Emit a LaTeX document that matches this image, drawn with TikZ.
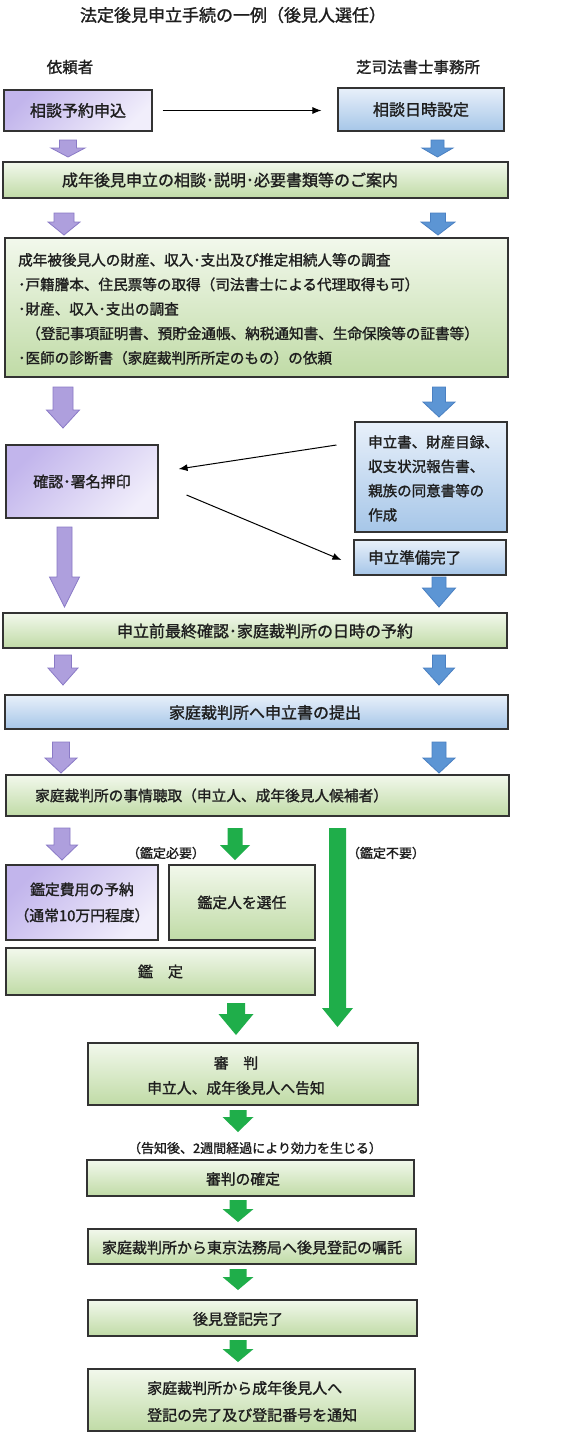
\documentclass[tikz,border=0pt]{standalone}
\usepackage{fontspec}
\setmainfont{Noto Sans CJK JP}[FakeBold=1.4]
\usetikzlibrary{arrows.meta,calc}
\definecolor{pd}{HTML}{C2B5EC}
\definecolor{pl}{HTML}{F1EEFB}
\definecolor{bt}{HTML}{E8F0FA}
\definecolor{bb}{HTML}{A6C6E8}
\definecolor{gt}{HTML}{F2F8EC}
\definecolor{gb}{HTML}{C0DBA6}
\definecolor{pa}{HTML}{AE9FDD}
\definecolor{pas}{HTML}{8A7AC6}
\definecolor{ba}{HTML}{5C95D4}
\definecolor{bas}{HTML}{4A80C2}
\definecolor{ga}{HTML}{1FAE4A}
\definecolor{bx}{HTML}{333333}
\definecolor{tx}{HTML}{1E1E1E}
\newcommand{\fsz}[1]{\fontsize{#1}{#1}\selectfont}
\newcommand{\blkarr}[7]{%
  \path[#1] (#2-#6,#3) -- (#2+#6,#3) -- (#2+#6,#4) -- (#2+#7,#4) -- (#2,#5)
    -- (#2-#7,#4) -- (#2-#6,#4) -- cycle;}
\tikzset{
  box/.style={draw=bx, line width=1.1pt, inner sep=0pt, text=tx},
  pbox/.style={box, top color=pd, bottom color=pl, shading angle=45},
  bbox/.style={box, top color=bt, bottom color=bb},
  gbox/.style={box, top color=gt, bottom color=gb},
  lbl/.style={text=tx, inner sep=0pt},
  parr/.style={fill=pa, draw=pas, line width=0.8pt},
  barr/.style={fill=ba, draw=bas, line width=0.8pt},
  garr/.style={fill=ga},
  link/.style={draw=black, line width=1pt, -{Latex[length=9pt,width=7pt]}},
}
\begin{document}
\begin{tikzpicture}[x=1pt,y=-1pt]
\useasboundingbox (0,0) rectangle (560,1451);
\fill[white] (0,0) rectangle (560,1451);
% headings
\node[lbl, font=\fsz{17}] (title) at (233,15) {法定後見申立手続の一例（後見人選任）};
\node[lbl, font=\fsz{15.5}] (client) at (70,67) {依頼者};
\node[lbl, font=\fsz{15.5}] (office) at (418,67) {芝司法書士事務所};
% row 1
\node[pbox, minimum width=148pt, minimum height=41pt, font=\fsz{16}] (req) at (78,110.5) {相談予約申込};
\node[bbox, minimum width=166pt, minimum height=43pt, font=\fsz{16}] (set) at (421,109.5) {相談日時設定};
\draw[link, shorten <=10pt, shorten >=16pt] (req.east) -- (req.east -| set.west);
% guide
\node[gbox, minimum width=505pt, minimum height=36pt] (guide) at (255.5,180) {};
\node[lbl, font=\fsz{16}] (guidet) at (230,180) {成年後見申立の相談･説明･必要書類等のご案内};
% survey
\node[gbox, minimum width=503pt, minimum height=139pt] (survey) at (256.5,307.5) {};
\node[lbl, anchor=west, align=left, font=\fontsize{14.6}{24.5}\selectfont] (surveyt) at (18,309)
 {成年被後見人の財産、収入･支出及び推定相続人等の調査\\
 ･戸籍謄本、住民票等の取得（司法書士による代理取得も可）\\
 ･財産、収入･支出の調査\\
 \hspace*{0.55em}（登記事項証明書、預貯金通帳、納税通知書、生命保険等の証書等）\\
 ･医師の診断書（家庭裁判所所定のもの）の依頼};
% sign / make / ready
\node[pbox, minimum width=152pt, minimum height=73pt, font=\fsz{15}] (sign) at (82,481.5) {確認･署名押印};
\node[bbox, minimum width=152pt, minimum height=110pt] (make) at (431,477) {};
\node[lbl, anchor=west, align=left, font=\fontsize{14.5}{24.3}\selectfont] (maket) at (368,478.5)
 {申立書、財産目録、\\収支状況報告書、\\親族の同意書等の\\作成};
\node[bbox, minimum width=152pt, minimum height=35pt] (ready) at (430,557.5) {};
\node[lbl, anchor=west, font=\fsz{15.5}] (readyt) at (368,557.5) {申立準備完了};
\draw[link] ($(make.west)+(-18,-32)$) -- ($(sign.east)+(20,-12.5)$);
\draw[link] ($(sign.east)+(28,13.5)$) -- ($(ready.west)+(-12,2.5)$);
% final check / submit / hearing
\node[gbox, minimum width=504pt, minimum height=35pt] (final) at (255,630.5) {};
\node[lbl, font=\fsz{16}] (finalt) at (265,631) {申立前最終確認･家庭裁判所の日時の予約};
\node[bbox, minimum width=503pt, minimum height=34pt] (submit) at (256.5,712) {};
\node[lbl, font=\fsz{16}] (submitt) at (265,712.5) {家庭裁判所へ申立書の提出};
\node[gbox, minimum width=503pt, minimum height=41pt] (hear) at (257.5,795.5) {};
\node[lbl, anchor=west, font=\fsz{14.7}] (heart) at (35,795.5) {家庭裁判所の事情聴取（申立人、成年後見人候補者）};
% appraisal
\node[lbl, font=\fsz{13}] (need) at (166,853) {（鑑定必要）};
\node[lbl, font=\fsz{13}] (noneed) at (386,853) {（鑑定不要）};
\node[pbox, minimum width=152pt, minimum height=75pt, align=center, font=\fontsize{14.8}{26}\selectfont] (fee) at (82,902.5) {鑑定費用の予納\\（通常10万円程度）};
\node[gbox, minimum width=146pt, minimum height=75pt, font=\fsz{14.8}] (appoint) at (242,902.5) {鑑定人を選任};
\node[gbox, minimum width=309pt, minimum height=47pt, font=\fsz{15}] (kantei) at (160.5,971.5) {鑑　定};
% judgement
\node[gbox, minimum width=330pt, minimum height=62pt] (judge) at (253,1074) {};
\node[lbl, align=center, font=\fontsize{14.8}{25}\selectfont] (judget) at (236,1075.5) {審　判\\申立人、成年後見人へ告知};
\node[lbl, font=\fsz{13}] (effect) at (255,1148) {（告知後、2週間経過により効力を生じる）};
\node[gbox, minimum width=327pt, minimum height=36pt] (confirm) at (250.5,1178) {};
\node[lbl, font=\fsz{14.8}] (confirmt) at (243,1179) {審判の確定};
\node[gbox, minimum width=328pt, minimum height=35pt] (entrust) at (252,1246.5) {};
\node[lbl, font=\fsz{15}] (entrustt) at (252,1247.5) {家庭裁判所から東京法務局へ後見登記の嘱託};
\node[gbox, minimum width=329pt, minimum height=36pt] (done) at (252.5,1318) {};
\node[lbl, font=\fsz{15}] (donet) at (238,1319) {後見登記完了};
\node[gbox, minimum width=327pt, minimum height=62pt] (notify) at (251.5,1400) {};
\node[lbl, anchor=west, align=left, font=\fontsize{15}{27}\selectfont] (notifyt) at (147,1401.5) {家庭裁判所から成年後見人へ\\登記の完了及び登記番号を通知};
% block arrows: purple
\blkarr{parr}{68}{140}{148}{157}{8.5}{17}
\blkarr{parr}{64}{213}{222}{235}{10}{16}
\blkarr{parr}{63}{387}{410}{428}{10}{16.5}
\blkarr{parr}{64.5}{527}{577}{607}{7.5}{15}
\blkarr{parr}{63}{655}{668}{685}{8.5}{15}
\blkarr{parr}{61}{742}{758}{773}{8.5}{16}
\blkarr{parr}{62}{828}{845}{860}{8}{15.5}
% blue
\blkarr{barr}{437.5}{140}{148}{157}{6.5}{15.5}
\blkarr{barr}{438}{213}{222}{235}{7.5}{17}
\blkarr{barr}{439}{387}{402}{417}{6.5}{16}
\blkarr{barr}{439}{577}{588}{607}{7}{16.5}
\blkarr{barr}{439}{655}{668}{685}{6.5}{15.5}
\blkarr{barr}{439}{742}{758}{773}{7}{16}
% green
\blkarr{garr}{235}{828}{845}{860}{7.5}{15}
\blkarr{garr}{337.5}{828}{1008}{1027}{8.5}{15.5}
\blkarr{garr}{236}{1003}{1014}{1035}{9}{17.5}
\blkarr{garr}{238}{1110}{1117}{1132}{8.5}{15.5}
\blkarr{garr}{238}{1200}{1209}{1222}{8.5}{15.5}
\blkarr{garr}{238}{1269}{1277}{1290}{8.5}{15.5}
\blkarr{garr}{238}{1340}{1349}{1362}{8.5}{15.5}
\end{tikzpicture}
\end{document}
